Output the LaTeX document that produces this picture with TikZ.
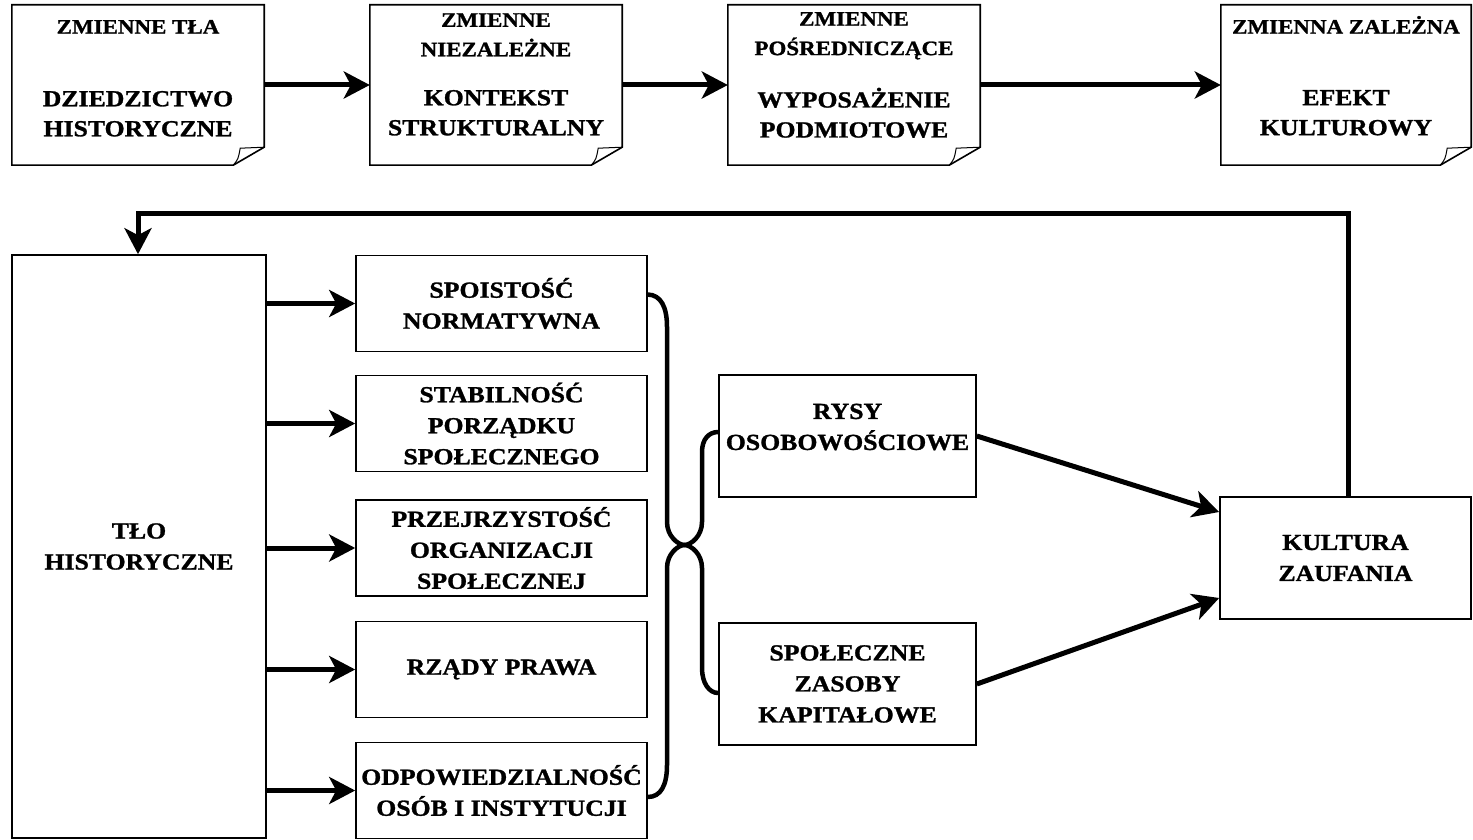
\documentclass[tikz,border=0pt]{standalone}
\usepackage{fontspec}
\setmainfont{Liberation Serif}[FakeStretch=1.12, BoldFeatures={FakeBold=1.2}]
\usetikzlibrary{arrows.meta,calc}
\begin{document}
\begin{tikzpicture}[x=1pt,y=-1pt,
  topframe/.style={inner sep=0pt, minimum height=160pt},
  hdr/.style={font=\bfseries\fontsize{20.5}{29.5}\selectfont, align=center, inner sep=0pt},
  mtxt/.style={font=\bfseries\fontsize{23}{30}\selectfont, align=center, inner sep=0pt},
  plainbox/.style={draw, line width=1.6pt, inner sep=0pt, align=center,
    font=\bfseries\fontsize{23}{31}\selectfont},
  midbox/.style={plainbox, minimum width=291pt, minimum height=96pt},
  sidebox/.style={plainbox, minimum width=257pt, minimum height=122pt},
  arr/.style={line width=5pt, -{Stealth[length=26pt,width=27pt,inset=7pt]}},
  link/.style={line width=4.5pt},
  frame/.style={line width=1.6pt},
  flap/.style={line width=1pt}
]
\useasboundingbox (0,0) rectangle (1473,840);

% top row
\node[topframe, minimum width=252pt] (t1) at (138,85) {};
\node[topframe, minimum width=252pt] (t2) at (496,85) {};
\node[topframe, minimum width=252pt] (t3) at (854,85) {};
\node[topframe, minimum width=250pt] (t4) at (1346,85) {};
\foreach \n in {t1,t2,t3,t4}{
  \draw[frame] (\n.north west) -- (\n.north east) -- ($(\n.south east)+(0,-18)$)
     -- ($(\n.south east)+(-31,0)$) -- (\n.south west) -- cycle;
  \draw[flap] ($(\n.south east)+(-31,0)$) .. controls ($(\n.south east)+(-26,-6)$) .. ($(\n.south east)+(-24,-17)$)
     -- ($(\n.south east)+(0,-18)$);
}
\node[hdr] (t1h) at ($(t1.north)+(0,22)$) {ZMIENNE TŁA};
\node[hdr] (t2h) at ($(t2.north)+(0,30)$) {ZMIENNE\\NIEZALEŻNE};
\node[hdr] (t3h) at ($(t3.north)+(0,31)$) {ZMIENNE\\POŚREDNICZĄCE};
\node[hdr] (t4h) at ($(t4.north)+(0,20)$) {ZMIENNA ZALEŻNA};
\node[mtxt] (t1m) at ($(t1.north)+(0,109)$) {DZIEDZICTWO\\HISTORYCZNE};
\node[mtxt] (t2m) at ($(t2.north)+(0,108)$) {KONTEKST\\STRUKTURALNY};
\node[mtxt] (t3m) at ($(t3.north)+(0,108)$) {WYPOSAŻENIE\\PODMIOTOWE};
\node[mtxt] (t4m) at ($(t4.north)+(0,108)$) {EFEKT\\KULTUROWY};

\draw[arr] (t1.east) -- (t2.west);
\draw[arr] (t2.east) -- (t3.west);
\draw[arr] (t3.east) -- (t4.west);

% bottom part
\node[plainbox, minimum width=254pt, minimum height=583pt] (tlo) at (139,546.5) {TŁO\\HISTORYCZNE};
\node[midbox] (m1) at (501.5,303.5) {SPOISTOŚĆ\\NORMATYWNA};
\node[midbox] (m2) at (501.5,423.5) {STABILNOŚĆ\\PORZĄDKU\\SPOŁECZNEGO};
\node[midbox] (m3) at (501.5,548) {PRZEJRZYSTOŚĆ\\ORGANIZACJI\\SPOŁECZNEJ};
\node[midbox] (m4) at (501.5,669.5) {RZĄDY PRAWA};
\node[midbox] (m5) at (501.5,790.5) {ODPOWIEDZIALNOŚĆ\\OSÓB I INSTYTUCJI};
\node[sidebox] (r1) at (847.5,436) {};
\node[mtxt, font=\bfseries\fontsize{23}{31}\selectfont] (r1t) at (847.5,427) {RYSY\\OSOBOWOŚCIOWE};
\node[sidebox] (r2) at (847.5,684) {SPOŁECZNE\\ZASOBY\\KAPITAŁOWE};
\node[sidebox, minimum width=251pt] (k) at (1345.5,558) {KULTURA\\ZAUFANIA};

\foreach \m in {m1,m2,m3,m4,m5}
  \draw[arr] (tlo.east |- \m) -- (\m.west);

% brace connectors
\coordinate (s1) at ($(m1.east)+(0,-9)$);
\coordinate (s5) at ($(m5.east)+(0,6.5)$);
\coordinate (e1) at ($(r1.west)+(0,-4)$);
\coordinate (e2) at ($(r2.west)+(0,9)$);
\coordinate (c) at (684.5,545);
\draw[link] (s1) .. controls (661,295) and (667,307) .. (667,327) -- (667,522)
  .. controls (667,536) and (678,545) .. (c)
  .. controls (691,545) and (702,536) .. (702,522) -- (702,452)
  .. controls (702,439) and (709,432) .. (e1);
\draw[link] (s5) .. controls (661,797) and (667,785) .. (667,765) -- (667,568)
  .. controls (667,554) and (678,545) .. (c)
  .. controls (691,545) and (702,554) .. (702,568) -- (702,668)
  .. controls (702,683) and (709,693) .. (e2);

\draw[arr] (r1.east) -- ($(k.west)+(0,-46)$);
\draw[arr] (r2.east) -- ($(k.west)+(0,40)$);

% feedback
\coordinate (fb) at (138,213);
\draw[arr] ($(k.north)+(2.5,0)$) |- (fb) -- (fb |- tlo.north);
\end{tikzpicture}
\end{document}
